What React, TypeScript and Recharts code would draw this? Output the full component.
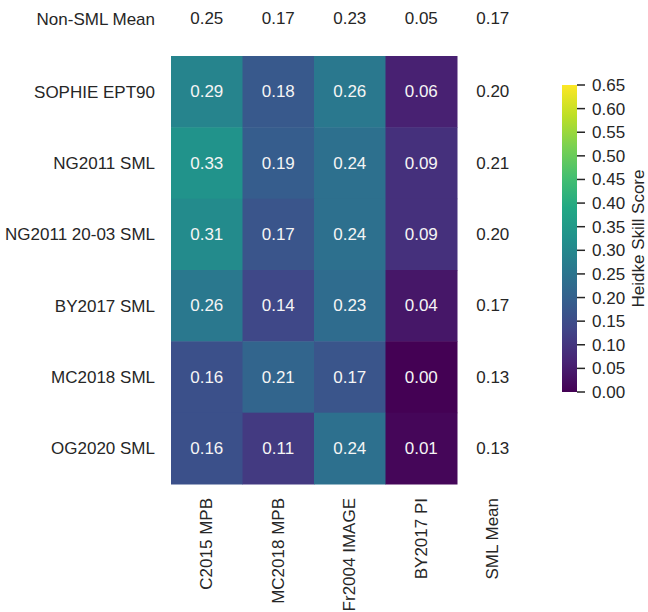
import {
  Bar,
  BarChart,
  Scatter,
  ScatterChart,
  XAxis,
  YAxis,
} from "recharts";

const rows = [
  "SOPHIE EPT90",
  "NG2011 SML",
  "NG2011 20-03 SML",
  "BY2017 SML",
  "MC2018 SML",
  "OG2020 SML",
];
const cols = ["C2015 MPB", "MC2018 MPB", "Fr2004 IMAGE", "BY2017 PI"];

const scores = [
  [0.29, 0.18, 0.26, 0.06],
  [0.33, 0.19, 0.24, 0.09],
  [0.31, 0.17, 0.24, 0.09],
  [0.26, 0.14, 0.23, 0.04],
  [0.16, 0.21, 0.17, 0.0],
  [0.16, 0.11, 0.24, 0.01],
];
const smlMean = [0.2, 0.21, 0.2, 0.17, 0.13, 0.13];
const nonSmlMean = [0.25, 0.17, 0.23, 0.05, 0.17];

const cbarTicks = [0, 0.05, 0.1, 0.15, 0.2, 0.25, 0.3, 0.35, 0.4, 0.45, 0.5, 0.55, 0.6, 0.65];
const vmax = 0.65;

// viridis anchors
const viridis = [
  "#440154", "#482475", "#414487", "#355f8d", "#2a788e", "#21918c",
  "#22a884", "#44bf70", "#7ad151", "#bddf26", "#fde725",
];

function hex(c: string) {
  return [1, 3, 5].map((i) => parseInt(c.slice(i, i + 2), 16));
}

function colorFor(v: number) {
  const t = Math.max(0, Math.min(1, v / vmax)) * (viridis.length - 1);
  const i = Math.min(Math.floor(t), viridis.length - 2);
  const f = t - i;
  const a = hex(viridis[i]);
  const b = hex(viridis[i + 1]);
  const m = a.map((x, k) => Math.round(x + (b[k] - x) * f));
  return `rgb(${m[0]},${m[1]},${m[2]})`;
}

const FONT = "'Liberation Sans', Arial, sans-serif";
const TEXT = "#262626";
const MEAN_ROW_Y = 6.52;

const W = 648;
const H = 612;
const LEFT = 171;
const RIGHT = 119.5;
const TOP = 2.5;
const XAXIS_H = 128;
const X_MAX = 5;
const Y_MAX = 6.75;
const cellW = (W - LEFT - RIGHT) / X_MAX;
const cellH = (H - TOP - XAXIS_H) / Y_MAX;

const cells = rows.flatMap((r, ri) =>
  cols.map((c, ci) => ({ x: ci + 0.5, y: rows.length - ri - 0.5, v: scores[ri][ci] }))
);
const meanCol = smlMean.map((v, ri) => ({ x: cols.length + 0.5, y: rows.length - ri - 0.5, v }));
const meanRow = nonSmlMean.map((v, ci) => ({ x: ci + 0.5, y: MEAN_ROW_Y, v }));

const yTicks = [...rows.map((_, ri) => rows.length - ri - 0.5), MEAN_ROW_Y];
const yLabel = (t: number) =>
  t === MEAN_ROW_Y ? "Non-SML Mean" : rows[Math.round(rows.length - 0.5 - t)];
const xTicks = [...cols.map((_, ci) => ci + 0.5), cols.length + 0.5];
const xLabel = (t: number) => [...cols, "SML Mean"][Math.round(t - 0.5)];

const CellShape = (props: any) => {
  const { cx, cy, payload } = props;
  return (
    <g>
      <rect
        x={cx - cellW / 2}
        y={cy - cellH / 2}
        width={cellW + 0.5}
        height={cellH + 0.5}
        fill={colorFor(payload.v)}
      />
      <text
        x={cx}
        y={cy}
        textAnchor="middle"
        dominantBaseline="central"
        fill="#f5f5f5"
        fontSize={17}
        fontFamily={FONT}
      >
        {payload.v.toFixed(2)}
      </text>
    </g>
  );
};

const MeanShape = (props: any) => {
  const { cx, cy, payload } = props;
  return (
    <text
      x={cx}
      y={cy}
      textAnchor="middle"
      dominantBaseline="central"
      fill={TEXT}
      fontSize={17}
      fontFamily={FONT}
    >
      {payload.v.toFixed(2)}
    </text>
  );
};

const XTick = (props: any) => {
  const { x, y, payload } = props;
  return (
    <g transform={`translate(${x},${y})`}>
      <text
        transform="rotate(-90)"
        textAnchor="end"
        dominantBaseline="central"
        fill={TEXT}
        fontSize={17}
        fontFamily={FONT}
      >
        {xLabel(payload.value)}
      </text>
    </g>
  );
};

const CbarLabel = (props: any) => {
  const vb = props.viewBox || {};
  const x = (vb.x ?? 13) + 61;
  const y = (vb.y ?? 85) + (vb.height ?? 307) / 2;
  return (
    <text
      x={x}
      y={y}
      transform={`rotate(-90, ${x}, ${y})`}
      textAnchor="middle"
      dominantBaseline="central"
      fill={TEXT}
      fontSize={17}
      fontFamily={FONT}
    >
      Heidke Skill Score
    </text>
  );
};

export default function App() {
  return (
    <div style={{ position: "absolute", left: 0, top: 0, width: W, height: H, background: "#fff" }}>
      <div style={{ position: "absolute", left: 0, top: 0 }}>
        <ScatterChart
          width={W}
          height={H}
          margin={{ top: TOP, right: RIGHT, bottom: 0, left: 0 }}
        >
          <XAxis
            type="number"
            dataKey="x"
            domain={[0, X_MAX]}
            ticks={xTicks}
            interval={0}
            height={XAXIS_H}
            axisLine={false}
            tickLine={false}
            tickSize={0}
            tickMargin={14}
            tick={<XTick />}
          />
          <YAxis
            type="number"
            dataKey="y"
            domain={[0, Y_MAX]}
            ticks={yTicks}
            interval={0}
            width={LEFT}
            axisLine={false}
            tickLine={false}
            tickSize={0}
            tickMargin={16}
            tickFormatter={yLabel}
            tick={{ fill: TEXT, fontSize: 17, fontFamily: FONT }}
          />
          <Scatter data={cells} shape={<CellShape />} isAnimationActive={false} />
          <Scatter data={meanCol} shape={<MeanShape />} isAnimationActive={false} />
          <Scatter data={meanRow} shape={<MeanShape />} isAnimationActive={false} />
        </ScatterChart>
      </div>
      <div style={{ position: "absolute", left: 562, top: 0 }}>
        <BarChart
          width={86}
          height={H}
          data={[{ name: "cbar", v: vmax }]}
          margin={{ top: 85, right: 0, bottom: H - 392, left: 0 }}
          barCategoryGap={0}
        >
          <defs>
            <linearGradient id="viridisGrad" x1="0" y1="1" x2="0" y2="0">
              {viridis.map((c, i) => (
                <stop key={i} offset={`${(i / (viridis.length - 1)) * 100}%`} stopColor={c} />
              ))}
            </linearGradient>
          </defs>
          <XAxis dataKey="name" hide />
          <YAxis
            orientation="right"
            domain={[0, vmax]}
            ticks={cbarTicks}
            interval={0}
            width={71}
            axisLine={false}
            tickSize={8}
            tickMargin={7}
            tickLine={{ stroke: TEXT, strokeWidth: 1.5 }}
            tickFormatter={(v: number) => v.toFixed(2)}
            tick={{ fill: TEXT, fontSize: 17, fontFamily: FONT }}
            label={<CbarLabel />}
          />
          <Bar dataKey="v" fill="url(#viridisGrad)" isAnimationActive={false} />
        </BarChart>
      </div>
    </div>
  );
}
